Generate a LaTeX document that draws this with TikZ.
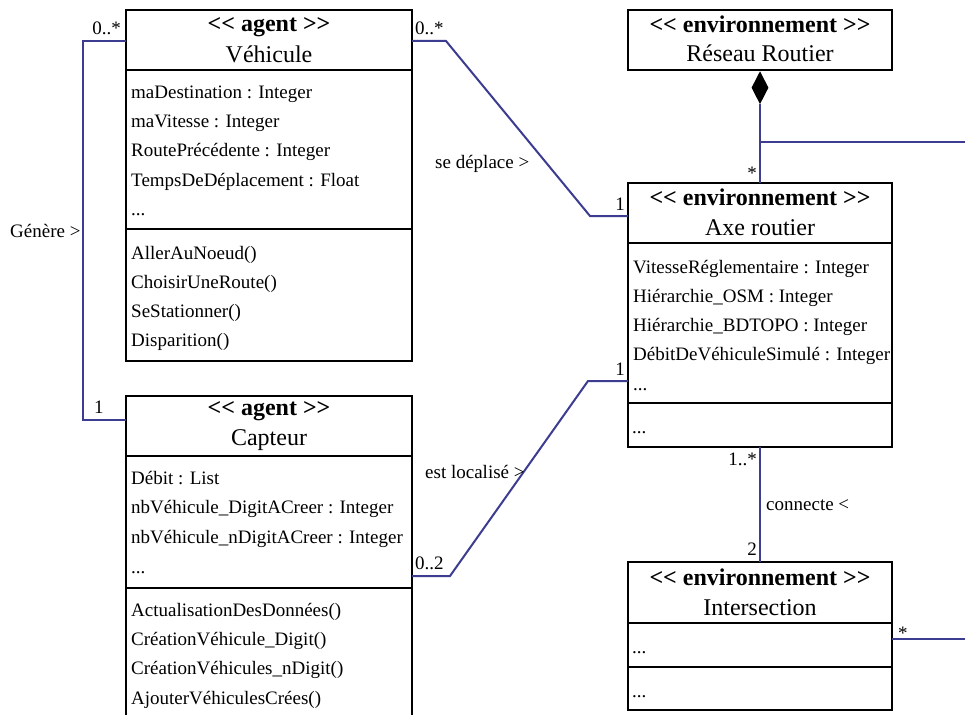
\documentclass[tikz,border=0pt]{standalone}
\usepackage{fontspec}
\setmainfont{Liberation Serif}
\usetikzlibrary{shapes.geometric,calc}
\definecolor{assoc}{RGB}{60,60,145}
\newcommand\lguil{<\kern0pt<}
\newcommand\rguil{>\kern0pt>}
\begin{document}
\begin{tikzpicture}[x=1pt,y=-1pt,
  box/.style={draw=black,line width=2pt,anchor=north west,inner sep=0pt,outer sep=0pt},
  sep/.style={draw=black,line width=2pt},
  txt/.style={anchor=base west,inner sep=0pt,font=\fontsize{19}{23}\selectfont},
  ttl/.style={anchor=base,inner sep=0pt,font=\fontsize{24}{28}\selectfont},
  stereo/.style={anchor=base,inner sep=0pt,font=\fontsize{24}{28}\selectfont\bfseries},
  lbl/.style={inner sep=0pt,font=\fontsize{19}{23}\selectfont},
  link/.style={draw=assoc,line width=2pt}]
\clip (0,0) rectangle (965,714);
\fill[white] (0,0) rectangle (965,714);

% ---- Vehicule
\node[box,minimum width=286pt,minimum height=351pt] (veh) at (126,10) {};
\draw[sep] ([yshift=-60pt]veh.north west) -- ([yshift=-60pt]veh.north east);
\draw[sep] ([yshift=-219pt]veh.north west) -- ([yshift=-219pt]veh.north east);
\node[stereo] (vehs) at (269,32) {\lguil{} agent \rguil};
\node[ttl] (vehn) at (269,63) {Véhicule};
\foreach \t [count=\i] in {maDestination : Integer, maVitesse : Integer, RoutePrécédente : Integer, TempsDeDéplacement : Float}
  \node[txt] (va\i) at (131,{99+29*(\i-1)}) {\t};
\node[txt] (va5) at (131,215) {...};
\foreach \t [count=\i] in {AllerAuNoeud(), ChoisirUneRoute(), SeStationner(), Disparition()}
  \node[txt] (vm\i) at (131,{259+29.2*(\i-1)}) {\t};

% ---- Capteur
\node[box,minimum width=286pt,minimum height=360pt] (cap) at (126,396) {};
\draw[sep] ([yshift=-60pt]cap.north west) -- ([yshift=-60pt]cap.north east);
\draw[sep] ([yshift=-192pt]cap.north west) -- ([yshift=-192pt]cap.north east);
\node[stereo] (caps) at (269,415) {\lguil{} agent \rguil};
\node[ttl] (capn) at (269,445) {Capteur};
\foreach \t [count=\i] in {Débit : List, nbVéhicule\_DigitACreer : Integer, nbVéhicule\_nDigitACreer : Integer}
  \node[txt] (ca\i) at (131,{484+29.7*(\i-1)}) {\t};
\node[txt] (ca4) at (131,573) {...};
\foreach \t [count=\i] in {ActualisationDesDonnées(), CréationVéhicule\_Digit(), CréationVéhicules\_nDigit(), AjouterVéhiculesCrées()}
  \node[txt] (cm\i) at (131,{616+29.4*(\i-1)}) {\t};

% ---- Reseau Routier
\node[box,minimum width=264pt,minimum height=60pt] (res) at (628,10) {};
\node[stereo] (ress) at (760,33) {\lguil{} environnement \rguil};
\node[ttl] (resn) at (760,62) {Réseau Routier};
\node[diamond,fill=black,draw=none,inner sep=0pt,minimum width=17pt,minimum height=33pt,anchor=north] (dia) at (760,71) {};

% ---- Axe routier
\node[box,minimum width=264pt,minimum height=264pt] (axe) at (628,183) {};
\draw[sep] ([yshift=-60pt]axe.north west) -- ([yshift=-60pt]axe.north east);
\draw[sep] ([yshift=-220pt]axe.north west) -- ([yshift=-220pt]axe.north east);
\node[stereo] (axes) at (760,205) {\lguil{} environnement \rguil};
\node[ttl] (axen) at (760,235) {Axe routier};
\foreach \t [count=\i] in {VitesseRéglementaire : Integer, Hiérarchie\_OSM : Integer, Hiérarchie\_BDTOPO : Integer, DébitDeVéhiculeSimulé : Integer}
  \node[txt] (aa\i) at (633,{273+29.25*(\i-1)}) {\t};
\node[txt] (aa5) at (633,390) {...};
\node[txt] (am1) at (632,433) {...};

% ---- Intersection
\node[box,minimum width=264pt,minimum height=148pt] (int) at (628,562) {};
\draw[sep] ([yshift=-61pt]int.north west) -- ([yshift=-61pt]int.north east);
\draw[sep] ([yshift=-105pt]int.north west) -- ([yshift=-105pt]int.north east);
\node[stereo] (ints) at (760,585) {\lguil{} environnement \rguil};
\node[ttl] (intn) at (760,615) {Intersection};
\node[txt] (ia1) at (632,653) {...};
\node[txt] (im1) at (632,697) {...};

% ---- connectors
\coordinate (gA) at (83,41);
\coordinate (gB) at (83,420);
\draw[link] ([yshift=-31pt]veh.north west) -- (gA) -- (gB) -- ([yshift=-24pt]cap.north west);

\coordinate (dA) at (446,41);
\coordinate (dB) at (590,216);
\draw[link] ([yshift=-31pt]veh.north east) -- (dA) -- (dB) -- ([yshift=-33pt]axe.north west);

\coordinate (lA) at (450,576);
\coordinate (lB) at (588,381);
\draw[link] ([yshift=-180pt]cap.north east) -- (lA) -- (lB) -- ([yshift=-198pt]axe.north west);

\draw[link] (dia.south) -- (axe.north);
\coordinate (jR) at (760,142);
\coordinate (jRout) at (975,142);
\draw[link] (jR) -- (jRout);

\draw[link] (axe.south) -- (int.north);
\coordinate (iOut) at (975,639);
\draw[link] ([yshift=-77pt]int.north east) -- (iOut);

% ---- labels
\node[lbl,anchor=base west] (lg) at (10,237) {Génère >};
\node[lbl,anchor=base east] (lg1) at (121,35) {0..*};
\node[lbl,anchor=base west] (lg2) at (94,413) {1};
\node[lbl,anchor=base west] (ld1) at (415,35) {0..*};
\node[lbl,anchor=base west] (ld) at (435,168) {se déplace >};
\node[lbl,anchor=base east] (ld2) at (625,210) {1};
\node[lbl,anchor=base east] (lr1) at (757,179) {*};
\node[lbl,anchor=base east] (ll2) at (625,375) {1};
\node[lbl,anchor=base west] (ll) at (425,478) {est localisé >};
\node[lbl,anchor=base west] (ll1) at (415,569) {0..2};
\node[lbl,anchor=base east] (lc1) at (757,465) {1..*};
\node[lbl,anchor=base west] (lc) at (766,510) {connecte <};
\node[lbl,anchor=base east] (lc2) at (757,555) {2};
\node[lbl,anchor=base west] (li1) at (898,639) {*};
\end{tikzpicture}
\end{document}
